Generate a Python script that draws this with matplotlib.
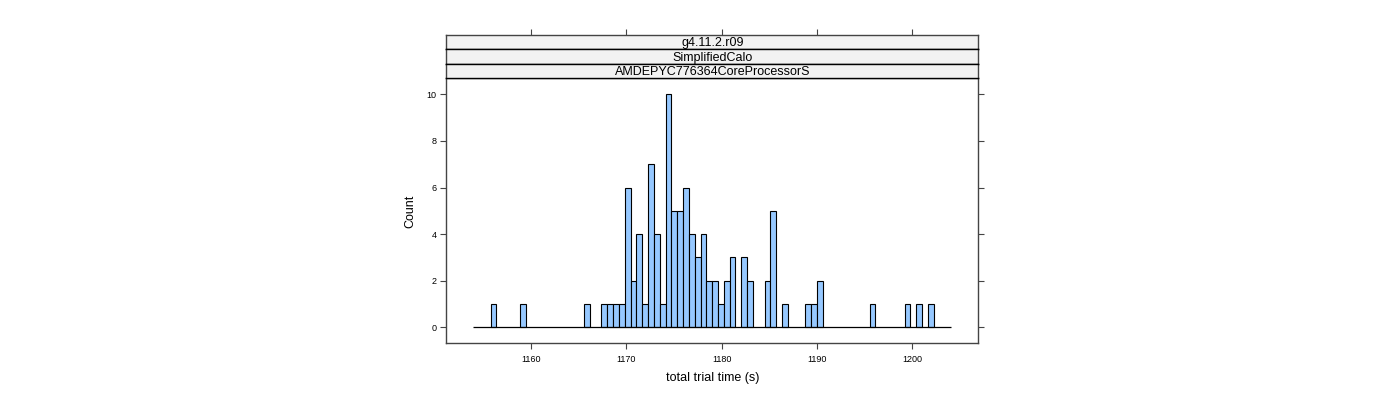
import numpy as np
import matplotlib
matplotlib.use("Agg")
import matplotlib.pyplot as plt

plt.rcParams['font.family'] = ['Liberation Sans', 'DejaVu Sans']

# ---- data ----
bin_start = 1153.93
bin_width = 0.6116
counts = [0, 0, 0, 1, 0, 0, 0, 0, 1, 0,
          0, 0, 0, 0, 0, 0, 0, 0, 0, 1,
          0, 0, 1, 1, 1, 1, 6, 2, 4, 1,
          7, 4, 1, 10, 5, 5, 6, 4, 3, 4,
          2, 2, 1, 2, 3, 0, 3, 2, 0, 0,
          2, 5, 0, 1, 0, 0, 0, 1, 1, 2,
          0, 0, 0, 0, 0, 0, 0, 0, 1, 0,
          0, 0, 0, 0, 1, 0, 1, 0, 1, 0,
          0, 0]
x_ticks = [1160, 1170, 1180, 1190, 1200]
y_ticks = [0, 2, 4, 6, 8, 10]
strip_labels = ["g4.11.2.r09", "SimplifiedCalo", "AMDEPYC776364CoreProcessorS"]
xlabel = "total trial time (s)"
ylabel = "Count"

# ---- layout ----
W, H = 1400, 400
fig = plt.figure(figsize=(14, 4), dpi=100)
px_l, px_r = 446.3, 978.3
py_top, py_bot = 78.3, 343.3
ax = fig.add_axes([px_l / W, 1 - py_bot / H, (px_r - px_l) / W, (py_bot - py_top) / H])

edges = bin_start + bin_width * np.arange(len(counts) + 1)
counts_arr = np.array(counts)
nz = counts_arr > 0
ax.bar(edges[:-1][nz], counts_arr[nz], width=bin_width, align='edge',
       color='#96C8FF', edgecolor='black', linewidth=0.8, zorder=2)
# zero-count bins appear as a flat line along the baseline
ax.hlines(0, edges[0], edges[-1], colors='black', linewidth=0.9, zorder=3)

ax.set_xlim(1151.12, 1206.92)
ax.set_ylim(-0.687, 10.687)

spine_col = '#444444'
for s in ax.spines.values():
    s.set_color(spine_col)
    s.set_linewidth(1.0)

ax.set_xticks(x_ticks)
ax.set_yticks(y_ticks)
ax.tick_params(axis='x', which='both', direction='out', length=4, width=0.8,
               colors=spine_col, labelcolor='black', labelsize=6.5, pad=4.5,
               top=False, bottom=True)
ax.tick_params(axis='y', which='both', direction='out', length=4, width=0.8,
               colors=spine_col, labelcolor='black', labelsize=6.5, pad=3,
               left=True, right=True, labelright=False)

fig.text(712.3 / W, 1 - 378 / H, xlabel, ha='center', va='center', fontsize=9)
fig.text(410 / W, 1 - 211 / H, ylabel, ha='center', va='center', fontsize=9,
         rotation=90)

# ---- strips ----
strip_top = 34.7
strip_h = (py_top - strip_top) / 3
for i, lab in enumerate(strip_labels):
    y0 = strip_top + i * strip_h
    sax = fig.add_axes([px_l / W, 1 - (y0 + strip_h) / H, (px_r - px_l) / W, strip_h / H])
    sax.set_facecolor('#F2F2F2')
    sax.set_xlim(ax.get_xlim())
    sax.set_ylim(0, 1)
    sax.set_yticks([])
    for s in sax.spines.values():
        s.set_color(spine_col)
        s.set_linewidth(1.0)
    sax.spines['bottom'].set_color('black')
    if i > 0:
        sax.spines['top'].set_color('black')
    if i == 0:
        sax.set_xticks(x_ticks)
        sax.tick_params(axis='x', top=True, bottom=False, labeltop=False,
                        labelbottom=False, direction='out', length=4, width=0.8,
                        colors=spine_col)
    else:
        sax.set_xticks([])
    sax.text(0.5, 0.40, lab, transform=sax.transAxes, ha='center', va='center',
             fontsize=9)

fig.savefig('out.png', dpi=100)
